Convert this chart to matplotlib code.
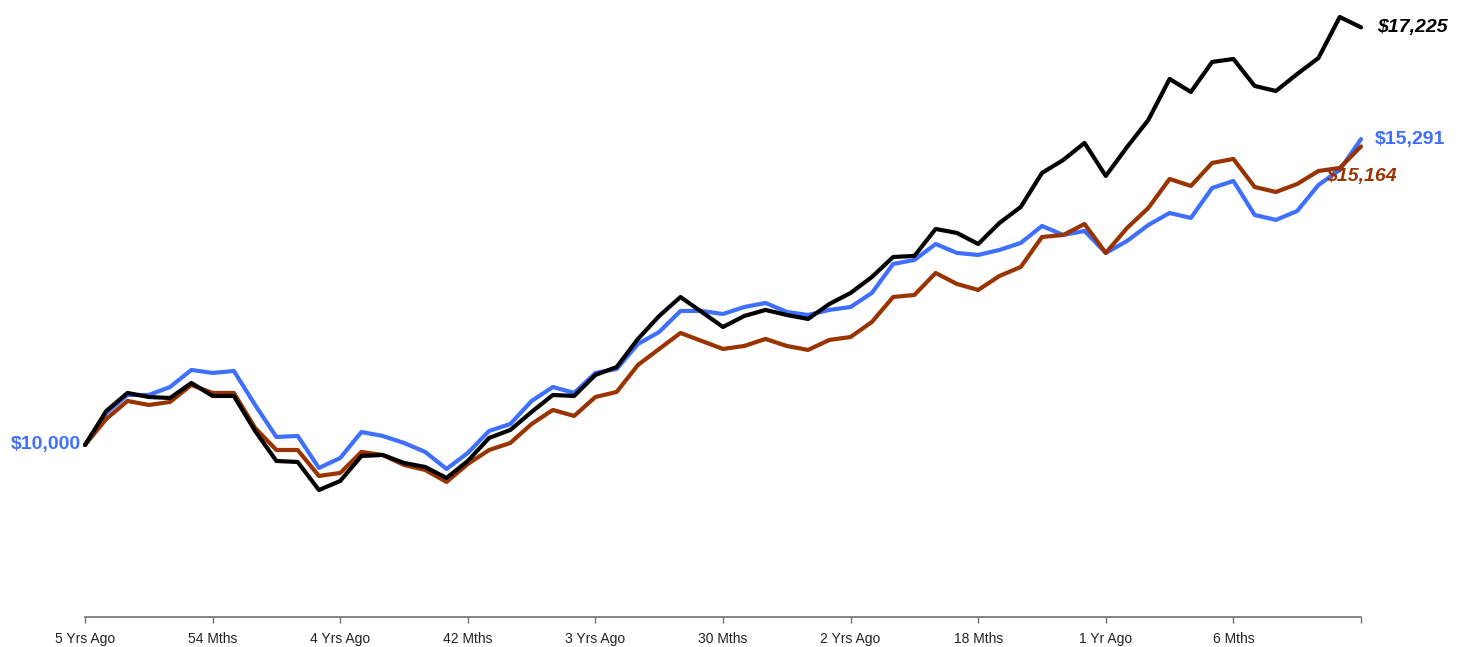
import matplotlib
matplotlib.use("Agg")
import matplotlib.pyplot as plt

# Months since "5 Yrs Ago" (0..60)
months = list(range(61))

tick_positions = [0, 6, 12, 18, 24, 30, 36, 42, 48, 54, 60]
tick_labels = ["5 Yrs Ago", "54 Mths", "4 Yrs Ago", "42 Mths", "3 Yrs Ago",
               "30 Mths", "2 Yrs Ago", "18 Mths", "1 Yr Ago", "6 Mths", ""]

black_series = [10000, 10588, 10900, 10830, 10813, 11073, 10848, 10848, 10242, 9723,
                9706, 9221, 9377, 9810, 9827, 9689, 9619, 9429, 9723, 10121,
                10260, 10571, 10865, 10848, 11211, 11349, 11834, 12232, 12560, 12301,
                12041, 12232, 12336, 12249, 12180, 12439, 12630, 12906, 13252, 13270,
                13737, 13668, 13477, 13841, 14117, 14706, 14931, 15225, 14654, 15155,
                15623, 16332, 16107, 16626, 16678, 16211, 16124, 16418, 16695, 17404,
                17225]

blue_series = [10000, 10554, 10865, 10865, 11003, 11298, 11246, 11280, 10692, 10138,
               10156, 9602, 9775, 10225, 10156, 10035, 9879, 9585, 9862, 10242,
               10363, 10761, 11003, 10900, 11246, 11315, 11747, 11955, 12318, 12318,
               12266, 12387, 12457, 12301, 12249, 12336, 12387, 12630, 13131, 13201,
               13477, 13322, 13287, 13374, 13495, 13789, 13633, 13702, 13322, 13529,
               13806, 14014, 13927, 14446, 14567, 13979, 13893, 14048, 14498, 14758,
               15291]

brown_series = [10000, 10450, 10761, 10692, 10744, 11038, 10900, 10900, 10294, 9913,
                9913, 9464, 9516, 9879, 9827, 9654, 9567, 9360, 9671, 9913,
                10035, 10363, 10606, 10502, 10830, 10917, 11384, 11661, 11938, 11799,
                11661, 11713, 11834, 11713, 11644, 11817, 11868, 12128, 12560, 12595,
                12976, 12785, 12682, 12924, 13079, 13598, 13633, 13823, 13322, 13754,
                14100, 14602, 14481, 14879, 14948, 14463, 14377, 14515, 14740, 14792,
                15164]

BLUE = "#3f6fff"
BROWN = "#993300"
BLACK = "#000000"

plt.rcParams['font.family'] = ['Liberation Sans', 'DejaVu Sans']

W, H = 1464, 647
fig = plt.figure(figsize=(W / 100, H / 100), dpi=100)
ax = fig.add_axes([85 / W, 30 / H, (1361 - 85) / W, 617 / H])

lw = 3.0
ax.plot(months, blue_series, color=BLUE, lw=lw, solid_joinstyle='round',
        solid_capstyle='round', clip_on=False, zorder=3)
ax.plot(months, brown_series, color=BROWN, lw=lw, solid_joinstyle='round',
        solid_capstyle='round', clip_on=False, zorder=4)
ax.plot(months, black_series, color=BLACK, lw=lw, solid_joinstyle='round',
        solid_capstyle='round', clip_on=False, zorder=5)

ax.set_xlim(0, 60)
ax.set_ylim(7024, 17698)

for s in ("left", "top", "right"):
    ax.spines[s].set_visible(False)
ax.spines["bottom"].set_color("#707070")
ax.spines["bottom"].set_linewidth(1.2)
ax.set_yticks([])
ax.set_xticks(tick_positions)
ax.set_xticklabels(tick_labels, fontsize=10, color="#222222")
ax.tick_params(axis='x', direction='out', length=4, width=1, color="#707070", pad=6.5)

# End / start value labels
ax.annotate(f"${blue_series[0]:,.0f}", xy=(months[0], blue_series[0]),
            xytext=(-4, 0), textcoords='offset pixels', ha='right', va='center',
            fontsize=14, fontweight='bold', color=BLUE)
ax.annotate(f"${black_series[-1]:,.0f}", xy=(months[-1], black_series[-1]),
            xytext=(16, 0), textcoords='offset pixels', ha='left', va='center',
            fontsize=14, fontweight='bold', fontstyle='italic', color=BLACK)
ax.annotate(f"${blue_series[-1]:,.0f}", xy=(months[-1], blue_series[-1]),
            xytext=(14, 0), textcoords='offset pixels', ha='left', va='center',
            fontsize=14, fontweight='bold', color=BLUE)
ax.annotate(f"${brown_series[-1]:,.0f}", xy=(months[-1], brown_series[-1]),
            xytext=(-35, -30), textcoords='offset pixels', ha='left', va='center',
            fontsize=14, fontweight='bold', fontstyle='italic', color=BROWN, zorder=6)

fig.savefig("out.png", dpi=100)
